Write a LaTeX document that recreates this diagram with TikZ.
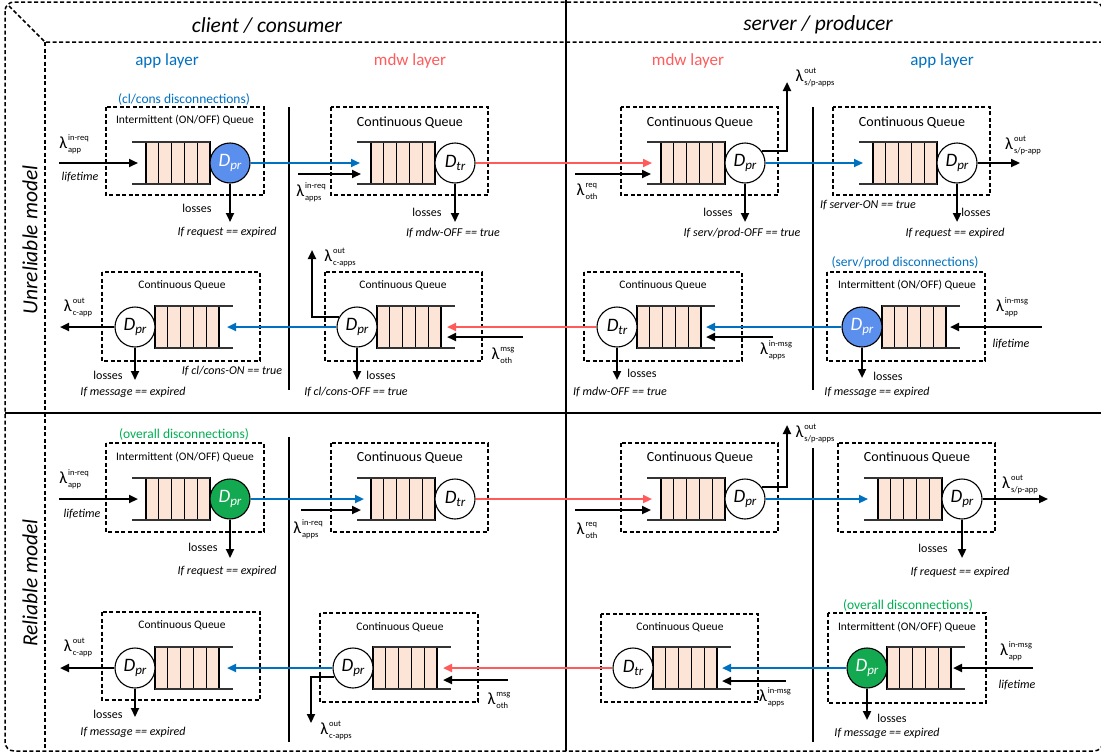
\documentclass[tikz,border=0pt]{standalone}
\usepackage{fontspec}
\setmainfont{Carlito}
\usetikzlibrary{arrows.meta,calc}

\definecolor{appblue}{HTML}{0070C0}
\definecolor{mdwred}{HTML}{FF5B5B}
\definecolor{discblue}{HTML}{5B8FEE}
\definecolor{discgreen}{HTML}{12A950}
\definecolor{txtgreen}{HTML}{00B050}
\definecolor{cellfill}{HTML}{FCE4D6}

\newcommand{\lam}[2]{{\fontsize{17}{17}\selectfont λ}\kern1pt\raisebox{-3.5pt}{\fontsize{8.5}{12}\selectfont\begin{tabular}[b]{@{}l@{}}#1\\#2\end{tabular}}}
\newcommand{\Dsub}[1]{\textit{D}\raisebox{-0.4ex}{\fontsize{13}{13}\selectfont\itshape #1}}
% five cells and the two rails of a queue, beside the server circle at (#1,#2)
\newcommand{\qbuf}[3]{%
  \foreach \cellno in {0,...,4}
    \path[draw, cell] ({#1+(#3)*(20+12.8*\cellno)},#2-21) rectangle ({#1+(#3)*(32.8+12.8*\cellno)},#2+21);
  \path[draw, qedge] ({#1+(#3)*20},#2-21) -- ({#1+(#3)*98},#2-21);
  \path[draw, qedge] ({#1+(#3)*20},#2+21) -- ({#1+(#3)*98},#2+21);
}

\tikzset{
  cell/.style={fill=cellfill, line width=1.1pt},
  qedge/.style={line width=1.1pt, black!80},
  qbox/.style={line width=1.5pt, dash pattern=on 4pt off 2.5pt},
  frame/.style={line width=1.5pt, dash pattern=on 4pt off 2.5pt},
  proc/.style={circle, draw, line width=1.1pt, minimum size=40pt, inner sep=0pt, fill=white, font=\fontsize{19}{19}\selectfont},
  flow/.style={line width=2.2pt, -{Triangle[length=9pt,width=8pt]}},
  bflow/.style={flow, appblue},
  rflow/.style={flow, mdwred},
  qtitle/.style={font=\fontsize{11.5}{13}\selectfont},
  qtitlebig/.style={font=\fontsize{14}{16}\selectfont},
  note/.style={font=\fontsize{12}{14}\selectfont},
  cond/.style={font=\itshape\fontsize{12}{14}\selectfont},
  disc/.style={font=\fontsize{13.5}{15}\selectfont},
  rate/.style={font=\fontsize{12}{14}\selectfont, inner sep=0pt},
  side/.style={font=\itshape\fontsize{21.5}{25}\selectfont},
  layer/.style={font=\fontsize{17}{20}\selectfont}
}

\begin{document}
\begin{tikzpicture}[x=1pt, y=-1pt]
        \useasboundingbox (0,0) rectangle (1101,755);
        % frame
        \path[draw, frame, rounded corners=9pt] (5,2) rectangle (1103,751);
        \path[draw, frame] (9,6) -- (45,42) -- (1101,42);
        \path[draw, frame] (45,42) -- (45,751);
        % separators
        \path[draw, line width=2pt] (566,0) -- (566,751);
        \path[draw, line width=2pt] (5,413) -- (1101,413);
        \path[draw, line width=1.5pt] (289,107) -- (289,390);
        \path[draw, line width=1.5pt] (813,107) -- (813,390);
        \path[draw, line width=1.5pt] (289,437) -- (289,742);
        \path[draw, line width=1.5pt] (813,448) -- (813,742);
        % headings
        \node[side] (hcl) at (267,25) {client / consumer};
        \node[side] (hsp) at (818,25) {server / producer};
        \node[layer, appblue] (lca) at (167,61) {app layer};
        \node[layer, mdwred] (lcm) at (410,61) {mdw layer};
        \node[layer, mdwred] (lsm) at (688,61) {mdw layer};
        \node[layer, appblue] (lsa) at (942,61) {app layer};
        \node[side, rotate=90] (hun) at (30,240) {Unreliable model};
        \node[side, rotate=90] (hre) at (30,583) {Reliable model};

        % ---- unreliable, requests
        \path[draw, qbox] (106,107) rectangle (264,195);
        \path[draw, qbox] (331,107) rectangle (488,195);
        \path[draw, qbox] (621,107) rectangle (778,195);
        \path[draw, qbox] (833,107) rectangle (990,195);
        \qbuf{230}{163}{-1}
        \qbuf{455}{163}{-1}
        \qbuf{745}{163}{-1}
        \qbuf{957}{163}{-1}
        \node[proc, fill=discblue, text=white] (capp1) at (230,163) {\Dsub{pr}};
        \node[proc] (cmdw1) at (455,163) {\Dsub{tr}};
        \node[proc] (smdw1) at (745,163) {\Dsub{pr}};
        \node[proc] (sapp1) at (957,163) {\Dsub{pr}};
        \node[disc, appblue] (dca1) at (184,99) {(cl/cons disconnections)};
        \node[qtitle] (tca1) at (185,120) {Intermittent (ON/OFF) Queue};
        \node[qtitlebig] (tcm1) at (410,123) {Continuous Queue};
        \node[qtitlebig] (tsm1) at (700,123) {Continuous Queue};
        \node[qtitlebig] (tsa1) at (912,123) {Continuous Queue};
        \coordinate (capp1src) at (59,163);
        \coordinate (capp1in) at (138,163);
        \coordinate (cmdw1in) at (360,163);
        \coordinate (cmdw1src) at (298,174);
        \coordinate (cmdw1ext) at (361,174);
        \coordinate (smdw1in) at (652,163);
        \coordinate (smdw1src) at (575,174);
        \coordinate (smdw1ext) at (651,174);
        \coordinate (smdw1up) at (787,82);
        \coordinate (sapp1in) at (863,163);
        \coordinate (sapp1out) at (1020,163);
        \coordinate (capp1loss) at (230,222);
        \coordinate (cmdw1loss) at (455,222);
        \coordinate (smdw1loss) at (745,222);
        \coordinate (sapp1loss) at (957,222);
        \path[draw, flow] (capp1src) -- (capp1in);
        \path[draw, bflow] (capp1) -- (cmdw1in);
        \path[draw, flow] (cmdw1src) -- (cmdw1ext);
        \path[draw, rflow] (cmdw1) -- (smdw1in);
        \path[draw, flow] (smdw1src) -- (smdw1ext);
        \path[draw, flow] (smdw1.35) -| (smdw1up);
        \path[draw, bflow] (smdw1) -- (sapp1in);
        \path[draw, flow] (sapp1) -- (sapp1out);
        \path[draw, flow] (capp1) -- (capp1loss);
        \path[draw, flow] (cmdw1) -- (cmdw1loss);
        \path[draw, flow] (smdw1) -- (smdw1loss);
        \path[draw, flow] (sapp1) -- (sapp1loss);
        \node[rate] (ra1) at (74,144) {\lam{in-req}{app}};
        \node[cond] (lt1) at (80,177) {lifetime};
        \node[rate] (rb1) at (311,192) {\lam{in-req}{apps}};
        \node[rate] (rc1) at (587,191) {\lam{req}{oth}};
        \node[rate] (rd1) at (815,77) {\lam{out}{s/p-apps}};
        \node[rate] (re1) at (1023,145) {\lam{out}{s/p-app}};
        \node[note] (la1) at (197,208) {losses};
        \node[cond] (ca1) at (227,232) {If request == expired};
        \node[note] (lb1) at (427,212) {losses};
        \node[cond] (cb1) at (453,233) {If mdw-OFF == true};
        \node[note] (lc1) at (718,212) {losses};
        \node[cond] (cc1) at (742,233) {If serv/prod-OFF == true};
        \node[cond] (cd1) at (868,205) {If server-ON == true};
        \node[note] (ld1) at (976,212) {losses};
        \node[cond] (ce1) at (955,233) {If request == expired};

        % ---- unreliable, messages
        \path[draw, qbox] (102,272) rectangle (260,361);
        \path[draw, qbox] (325,272) rectangle (482,361);
        \path[draw, qbox] (584,272) rectangle (742,361);
        \path[draw, qbox] (827,272) rectangle (985,361);
        \qbuf{135}{327}{1}
        \qbuf{357}{327}{1}
        \qbuf{617}{327}{1}
        \qbuf{862}{327}{1}
        \node[proc] (capp2) at (135,327) {\Dsub{pr}};
        \node[proc] (cmdw2) at (357,327) {\Dsub{pr}};
        \node[proc] (smdw2) at (617,327) {\Dsub{tr}};
        \node[proc, fill=discblue, text=white] (sapp2) at (862,327) {\Dsub{pr}};
        \node[qtitle] (tca2) at (182,285) {Continuous Queue};
        \node[qtitle] (tcm2) at (403,285) {Continuous Queue};
        \node[qtitle] (tsm2) at (663,285) {Continuous Queue};
        \node[qtitle] (tsa2) at (907,285) {Intermittent (ON/OFF) Queue};
        \node[disc, appblue] (dsa2) at (905,263) {(serv/prod disconnections)};
        \coordinate (capp2out) at (60,327);
        \coordinate (capp2in) at (227,327);
        \coordinate (cmdw2in) at (447,327);
        \coordinate (cmdw2src) at (523,337);
        \coordinate (cmdw2ext) at (447,337);
        \coordinate (cmdw2up) at (312,250);
        \coordinate (smdw2in) at (706,327);
        \coordinate (smdw2src) at (773,337);
        \coordinate (smdw2ext) at (706,337);
        \coordinate (sapp2src) at (1042,327);
        \coordinate (sapp2in) at (950,327);
        \coordinate (capp2loss) at (135,380);
        \coordinate (cmdw2loss) at (357,380);
        \coordinate (smdw2loss) at (617,380);
        \coordinate (sapp2loss) at (862,378);
        \path[draw, flow] (capp2) -- (capp2out);
        \path[draw, bflow] (cmdw2) -- (capp2in);
        \path[draw, flow] (cmdw2.150) -| (cmdw2up);
        \path[draw, flow] (cmdw2src) -- (cmdw2ext);
        \path[draw, rflow] (smdw2) -- (cmdw2in);
        \path[draw, bflow] (sapp2) -- (smdw2in);
        \path[draw, flow] (smdw2src) -- (smdw2ext);
        \path[draw, flow] (sapp2src) -- (sapp2in);
        \path[draw, flow] (capp2) -- (capp2loss);
        \path[draw, flow] (cmdw2) -- (cmdw2loss);
        \path[draw, flow] (smdw2) -- (smdw2loss);
        \path[draw, flow] (sapp2) -- (sapp2loss);
        \node[rate] (ra2) at (78,307) {\lam{out}{c-app}};
        \node[rate] (rb2) at (340,257) {\lam{out}{c-apps}};
        \node[rate] (rc2) at (503,355) {\lam{msg}{oth}};
        \node[rate] (rd2) at (776,350) {\lam{in-msg}{apps}};
        \node[rate] (re2) at (1012,307) {\lam{in-msg}{app}};
        \node[cond] (lt2) at (1011,344) {lifetime};
        \node[note] (la2) at (108,375) {losses};
        \node[cond] (ca2) at (133,392) {If message == expired};
        \node[cond] (cf2) at (232,371) {If cl/cons-ON == true};
        \node[note] (lb2) at (381,375) {losses};
        \node[cond] (cb2) at (356,392) {If cl/cons-OFF == true};
        \node[note] (lc2) at (642,373) {losses};
        \node[cond] (cc2) at (620,392) {If mdw-OFF == true};
        \node[note] (ld2) at (888,376) {losses};
        \node[cond] (cd2) at (877,392) {If message == expired};

        % ---- reliable, requests
        \path[draw, qbox] (106,443) rectangle (264,532);
        \path[draw, qbox] (331,443) rectangle (488,532);
        \path[draw, qbox] (621,443) rectangle (778,532);
        \path[draw, qbox] (838,443) rectangle (995,532);
        \qbuf{230}{499}{-1}
        \qbuf{455}{499}{-1}
        \qbuf{745}{499}{-1}
        \qbuf{962}{499}{-1}
        \node[proc, fill=discgreen, text=white] (capp3) at (230,499) {\Dsub{pr}};
        \node[proc] (cmdw3) at (455,499) {\Dsub{tr}};
        \node[proc] (smdw3) at (745,499) {\Dsub{pr}};
        \node[proc] (sapp3) at (962,499) {\Dsub{pr}};
        \node[disc, txtgreen] (dca3) at (184,434) {(overall disconnections)};
        \node[qtitle] (tca3) at (185,457) {Intermittent (ON/OFF) Queue};
        \node[qtitlebig] (tcm3) at (410,458) {Continuous Queue};
        \node[qtitlebig] (tsm3) at (700,458) {Continuous Queue};
        \node[qtitlebig] (tsa3) at (917,458) {Continuous Queue};
        \coordinate (capp3src) at (59,499);
        \coordinate (capp3in) at (138,499);
        \coordinate (cmdw3in) at (364,499);
        \coordinate (cmdw3src) at (301,510);
        \coordinate (cmdw3ext) at (361,510);
        \coordinate (smdw3in) at (652,499);
        \coordinate (smdw3src) at (575,510);
        \coordinate (smdw3ext) at (651,510);
        \coordinate (smdw3up) at (787,425);
        \coordinate (sapp3in) at (868,499);
        \coordinate (sapp3out) at (1048,499);
        \coordinate (capp3loss) at (230,558);
        \coordinate (sapp3loss) at (962,558);
        \path[draw, flow] (capp3src) -- (capp3in);
        \path[draw, bflow] (capp3) -- (cmdw3in);
        \path[draw, flow] (cmdw3src) -- (cmdw3ext);
        \path[draw, rflow] (cmdw3) -- (smdw3in);
        \path[draw, flow] (smdw3src) -- (smdw3ext);
        \path[draw, flow] (smdw3.35) -| (smdw3up);
        \path[draw, bflow] (smdw3) -- (sapp3in);
        \path[draw, flow] (sapp3) -- (sapp3out);
        \path[draw, flow] (capp3) -- (capp3loss);
        \path[draw, flow] (sapp3) -- (sapp3loss);
        \node[rate] (ra3) at (74,479) {\lam{in-req}{app}};
        \node[cond] (lt3) at (82,514) {lifetime};
        \node[rate] (rb3) at (308,529) {\lam{in-req}{apps}};
        \node[rate] (rc3) at (587,530) {\lam{req}{oth}};
        \node[rate] (rd3) at (815,433) {\lam{out}{s/p-apps}};
        \node[rate] (re3) at (1020,484) {\lam{out}{s/p-app}};
        \node[note] (la3) at (203,547) {losses};
        \node[cond] (ca3) at (227,571) {If request == expired};
        \node[note] (ld3) at (933,548) {losses};
        \node[cond] (cd3) at (960,572) {If request == expired};

        % ---- reliable, messages
        \path[draw, qbox] (102,612) rectangle (260,700);
        \path[draw, qbox] (320,613) rectangle (478,702);
        \path[draw, qbox] (601,614) rectangle (758,702);
        \path[draw, qbox] (828,613) rectangle (986,703);
        \qbuf{135}{668}{1}
        \qbuf{353}{668}{1}
        \qbuf{633}{668}{1}
        \qbuf{867}{668}{1}
        \node[proc] (capp4) at (135,668) {\Dsub{pr}};
        \node[proc] (cmdw4) at (353,668) {\Dsub{pr}};
        \node[proc] (smdw4) at (633,668) {\Dsub{tr}};
        \node[proc, fill=discgreen, text=white] (sapp4) at (867,668) {\Dsub{pr}};
        \node[qtitle] (tca4) at (182,625) {Continuous Queue};
        \node[qtitle] (tcm4) at (400,627) {Continuous Queue};
        \node[qtitle] (tsm4) at (680,627) {Continuous Queue};
        \node[qtitle] (tsa4) at (907,627) {Intermittent (ON/OFF) Queue};
        \node[disc, txtgreen] (dsa4) at (908,605) {(overall disconnections)};
        \coordinate (capp4out) at (60,668);
        \coordinate (capp4in) at (227,668);
        \coordinate (cmdw4in) at (443,668);
        \coordinate (cmdw4src) at (508,680);
        \coordinate (cmdw4ext) at (443,680);
        \coordinate (cmdw4down) at (311,723);
        \coordinate (smdw4in) at (722,668);
        \coordinate (smdw4src) at (786,681);
        \coordinate (smdw4ext) at (722,681);
        \coordinate (sapp4src) at (1033,668);
        \coordinate (sapp4in) at (953,668);
        \coordinate (capp4loss) at (135,717);
        \coordinate (sapp4loss) at (867,720);
        \path[draw, flow] (capp4) -- (capp4out);
        \path[draw, bflow] (cmdw4) -- (capp4in);
        \path[draw, flow] (cmdw4.205) -| (cmdw4down);
        \path[draw, flow] (cmdw4src) -- (cmdw4ext);
        \path[draw, rflow] (smdw4) -- (cmdw4in);
        \path[draw, bflow] (sapp4) -- (smdw4in);
        \path[draw, flow] (smdw4src) -- (smdw4ext);
        \path[draw, flow] (sapp4src) -- (sapp4in);
        \path[draw, flow] (capp4) -- (capp4loss);
        \path[draw, flow] (sapp4) -- (sapp4loss);
        \node[rate] (ra4) at (78,647) {\lam{out}{c-app}};
        \node[rate] (rb4) at (336,730) {\lam{out}{c-apps}};
        \node[rate] (rc4) at (499,700) {\lam{msg}{oth}};
        \node[rate] (rd4) at (775,697) {\lam{in-msg}{apps}};
        \node[rate] (re4) at (1016,651) {\lam{in-msg}{app}};
        \node[cond] (lt4) at (1017,685) {lifetime};
        \node[note] (la4) at (108,714) {losses};
        \node[cond] (ca4) at (133,732) {If message == expired};
        \node[note] (ld4) at (892,718) {losses};
        \node[cond] (cd4) at (887,733) {If message == expired};
    \end{tikzpicture}
\end{document}
